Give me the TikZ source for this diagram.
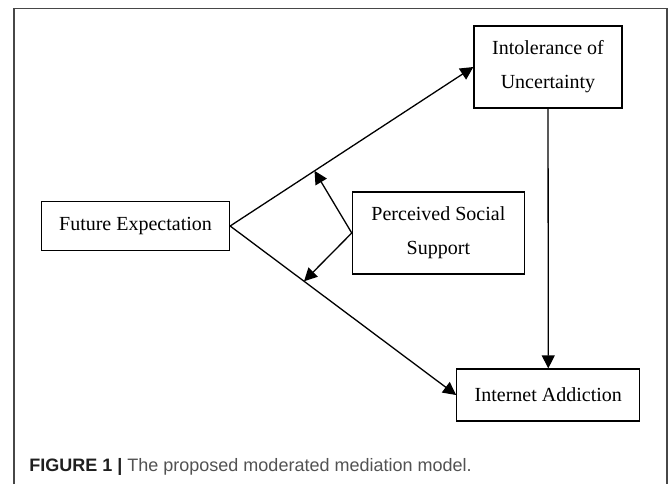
\documentclass[tikz,border=0pt]{standalone}
\usepackage{fontspec}
\setmainfont{Liberation Serif}
\newfontfamily\capfont{Liberation Sans}
\usepackage{tikz}
\usetikzlibrary{positioning, arrows.meta, calc}

\tikzset{
    var/.style={draw, line width=0.65pt, align=center, font=\fontsize{10}{17}\selectfont, inner sep=0pt},
    path/.style={line width=0.65pt, -{Triangle[length=6.5pt, width=6.5pt]}}
}

\begin{document}
\begin{tikzpicture}[x=0.5pt, y=-0.5pt]
    \useasboundingbox (0,0) rectangle (669,484);
    \draw[black!72, line width=0.7pt] (14,484) |- (667,8.5) -- (667,484);

    \node[var, minimum width=94pt, minimum height=24.5pt] (fe) at (135.5,226) {Future Expectation};
    \node[var, minimum width=74pt, minimum height=41pt] (iu) at (548,67) {Intolerance of\\Uncertainty};
    \node[var, minimum width=86pt, minimum height=41pt] (pss) at (438.4,233) {Perceived Social\\Support};
    \node[var, minimum width=91.5pt, minimum height=26pt] (ia) at (548.3,395) {Internet Addiction};

    \coordinate (m1) at ($(fe.east)!0.347!(iu.west)$);
    \coordinate (m2) at ($(fe.east)!0.327!(ia.west)$);

    \path[path]
        (fe.east) edge (iu.west)
        (fe.east) edge (ia.west)
        (iu) edge (ia)
        (pss.west) edge (m1)
        (pss.west) edge (m2);

    \node[anchor=base west, inner sep=0pt, font=\capfont\fontsize{9}{11}\selectfont] (cap) at (29,471.5)
        {\textcolor{black!88}{\textbf{FIGURE 1 |}} \textcolor{black!68}{The proposed moderated mediation model.}};
\end{tikzpicture}
\end{document}
